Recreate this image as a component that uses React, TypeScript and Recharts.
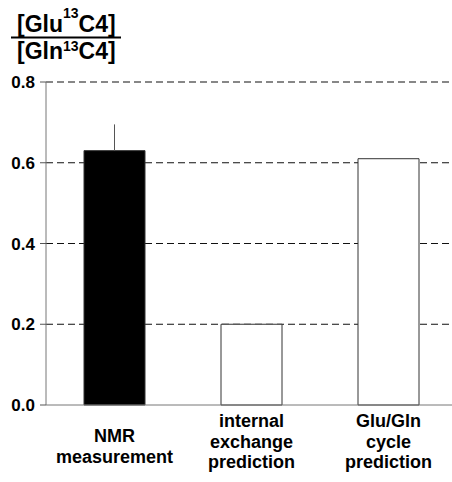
import React from "react";
import { BarChart, Bar, XAxis, YAxis, CartesianGrid, ErrorBar, Cell } from "recharts";

const categories = ["NMR measurement", "internal exchange prediction", "Glu/Gln cycle prediction"];
const labelLines = [["NMR", "measurement"], ["internal", "exchange", "prediction"], ["Glu/Gln", "cycle", "prediction"]];
const ratios = [0.63, 0.2, 0.61];
const errorsUp = [0.065, 0, 0];
const barFills = ["#000000", "#ffffff", "#ffffff"];
const yTicks = [0, 0.2, 0.4, 0.6, 0.8];
const gridValues = [0.2, 0.4, 0.6, 0.8];

const data = categories.map((c, i) => ({
  name: c,
  ratio: ratios[i],
  err: errorsUp[i] > 0 ? [0, errorsUp[i]] : undefined,
}));

const FONT = "'Liberation Sans', Arial, Helvetica, sans-serif";

function XTick(props: any) {
  const { x, y, index } = props;
  const lines = labelLines[index] || [];
  const first = lines.length === 2 ? 37 : 22;
  return (
    <g>
      {lines.map((l, i) => (
        <text key={i} x={x} y={y + first + i * 20.5} textAnchor="middle" fontSize={18} fontWeight="bold" fontFamily={FONT} fill="#000">
          {l}
        </text>
      ))}
    </g>
  );
}

export default function App() {
  return (
    <div style={{ position: "absolute", left: 0, top: 0, width: 452, height: 482, overflow: "hidden", background: "#fff" }}>
      <BarChart width={457} height={482} data={data} margin={{ top: 82, right: 0, bottom: 0, left: 0 }}>
        <CartesianGrid horizontal vertical={false} horizontalValues={gridValues} stroke="#111" strokeWidth={1.2} strokeDasharray="7 4" />
        <XAxis
          dataKey="name"
          height={77}
          tickLine={false}
          tickSize={0}
          tickMargin={0}
          interval={0}
          axisLine={{ stroke: "#777" }}
          tick={<XTick />}
        />
        <YAxis
          width={46}
          domain={[0, 0.8]}
          ticks={yTicks}
          tickFormatter={(v: number) => v.toFixed(1)}
          tickSize={6}
          tickMargin={5}
          axisLine={{ stroke: "#777" }}
          tickLine={{ stroke: "#555" }}
          tick={{ fontSize: 17, fontWeight: "bold", fontFamily: FONT, fill: "#000" }}
        />
        <Bar dataKey="ratio" barSize={61} stroke="#333" strokeWidth={1} isAnimationActive={false}>
          {data.map((_, i) => (
            <Cell key={i} fill={barFills[i]} />
          ))}
          <ErrorBar dataKey="err" width={0} stroke="#555" strokeWidth={1} direction="y" />
        </Bar>
      </BarChart>
      <svg width={140} height={70} style={{ position: "absolute", left: 0, top: 0 }}>
        <text x={17} y={32} fontSize={23} fontWeight="bold" fontFamily={FONT} fill="#000">
          [Glu<tspan fontSize={14} dy={-14}>13</tspan><tspan dy={14}>C4]</tspan>
        </text>
        <line x1={11} x2={121} y1={37.5} y2={37.5} stroke="#000" strokeWidth={2} />
        <text x={17} y={59} fontSize={23} fontWeight="bold" fontFamily={FONT} fill="#000">
          [Gln<tspan fontSize={14} dy={-8}>13</tspan><tspan dy={8}>C4]</tspan>
        </text>
      </svg>
    </div>
  );
}
